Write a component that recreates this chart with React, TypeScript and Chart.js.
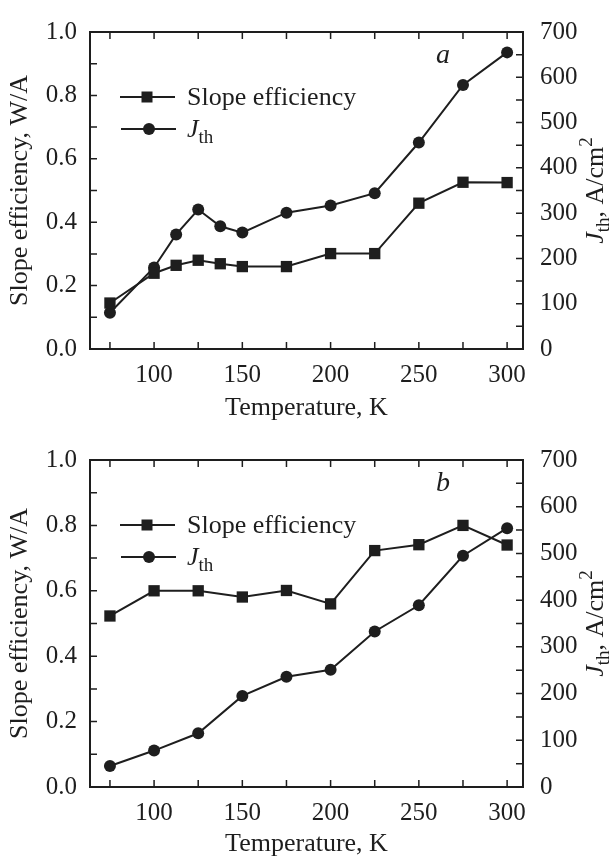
import React, { useEffect, useRef } from 'react';
import { Chart, registerables } from 'chart.js';

Chart.register(...registerables);

const FONT = '"Liberation Serif", "Times New Roman", Times, serif';
const INK = '#1e1e1e';

// Panel a
const tempA = [75, 100, 112.5, 125, 137.5, 150, 175, 200, 225, 250, 275, 300];
const slopeA = [0.145, 0.239, 0.264, 0.28, 0.269, 0.26, 0.26, 0.301, 0.301, 0.46, 0.526, 0.525];
const jthA = [80, 180, 253, 308, 271, 257, 301, 317, 344, 456, 583, 655];

// Panel b
const tempB = [75, 100, 125, 150, 175, 200, 225, 250, 275, 300];
const slopeB = [0.523, 0.6, 0.6, 0.581, 0.601, 0.56, 0.723, 0.741, 0.8, 0.74];
const jthB = [45, 78, 115, 195, 236, 251, 333, 389, 495, 554];

// Axes
const X_MIN = 63.7;
const X_MAX = 309;
const X_STEP = 50;
const X_MINOR = 25;
const Y_MIN = 0;
const Y_MAX = 1.0;
const Y_STEP = 0.2;
const Y_MINOR = 0.1;
const Y1_MIN = 0;
const Y1_MAX = 700;
const Y1_STEP = 100;
const Y1_MINOR = 50;

const X_TITLE = 'Temperature, K';
const Y_TITLE = 'Slope efficiency, W/A';
const LEGEND_SLOPE = 'Slope efficiency';

function drawRich(ctx: CanvasRenderingContext2D, parts: { t: string; size: number; italic?: boolean; dy?: number }[], x: number, y: number, align: 'left' | 'center') {
  let total = 0;
  for (const p of parts) {
    ctx.font = `${p.italic ? 'italic ' : ''}${p.size}px ${FONT}`;
    total += ctx.measureText(p.t).width;
  }
  let cx = align === 'center' ? x - total / 2 : x;
  ctx.textAlign = 'left';
  ctx.textBaseline = 'alphabetic';
  for (const p of parts) {
    ctx.font = `${p.italic ? 'italic ' : ''}${p.size}px ${FONT}`;
    ctx.fillText(p.t, cx, y + (p.dy || 0));
    cx += ctx.measureText(p.t).width;
  }
}

const framePlugin = {
  id: 'frame',
  afterDraw(chart: any, _args: any, opts: any) {
    const { ctx, chartArea: a, scales } = chart;
    const xs = scales.x, ys = scales.y, y1s = scales.y1;
    ctx.save();
    ctx.strokeStyle = INK;
    ctx.fillStyle = INK;
    ctx.lineWidth = 2;
    ctx.strokeRect(a.left, a.top, a.right - a.left, a.bottom - a.top);

    const TL = 7;
    ctx.lineWidth = 1.5;
    ctx.beginPath();
    for (let v = 75; v <= 300 + 1e-6; v += X_MINOR) {
      const px = xs.getPixelForValue(v);
      ctx.moveTo(px, a.bottom);
      ctx.lineTo(px, a.bottom - TL);
      ctx.moveTo(px, a.top);
      ctx.lineTo(px, a.top + TL);
    }
    for (let i = 0; i <= Math.round((Y_MAX - Y_MIN) / Y_MINOR); i++) {
      const py = ys.getPixelForValue(Y_MIN + i * Y_MINOR);
      ctx.moveTo(a.left, py);
      ctx.lineTo(a.left + TL, py);
    }
    for (let v = Y1_MIN; v <= Y1_MAX; v += Y1_MINOR) {
      const py = y1s.getPixelForValue(v);
      ctx.moveTo(a.right, py);
      ctx.lineTo(a.right - TL, py);
    }
    ctx.stroke();

    // x title
    ctx.font = `26px ${FONT}`;
    ctx.textAlign = 'center';
    ctx.textBaseline = 'alphabetic';
    ctx.fillText(X_TITLE, (a.left + a.right) / 2, a.bottom + opts.xTitleOffset);

    const cy = (a.top + a.bottom) / 2;
    // left title
    ctx.save();
    ctx.translate(27, cy);
    ctx.rotate(-Math.PI / 2);
    ctx.font = `26px ${FONT}`;
    ctx.textAlign = 'center';
    ctx.fillText(Y_TITLE, 0, 0);
    ctx.restore();

    // right title
    ctx.save();
    ctx.translate(603, cy);
    ctx.rotate(-Math.PI / 2);
    drawRich(ctx, [
      { t: 'J', size: 26, italic: true },
      { t: 'th', size: 19, dy: 6 },
      { t: ', A/cm', size: 26 },
      { t: '2', size: 19, dy: -11 },
    ], 0, 0, 'center');
    ctx.restore();

    // panel letter
    ctx.font = `italic 28px ${FONT}`;
    ctx.textAlign = 'center';
    ctx.fillText(opts.letter, 443, a.top + 31);

    // legend
    const r1 = a.top + 65;
    const r2 = a.top + 97;
    ctx.lineWidth = 2;
    ctx.beginPath();
    ctx.moveTo(120, r1);
    ctx.lineTo(175, r1);
    ctx.moveTo(121, r2);
    ctx.lineTo(176, r2);
    ctx.stroke();
    ctx.fillRect(147 - 5.5, r1 - 5.5, 11, 11);
    ctx.beginPath();
    ctx.arc(149, r2, 6, 0, Math.PI * 2);
    ctx.fill();
    ctx.font = `26px ${FONT}`;
    ctx.textAlign = 'left';
    ctx.fillText(LEGEND_SLOPE, 187, r1 + 8);
    drawRich(ctx, [
      { t: 'J', size: 26, italic: true },
      { t: 'th', size: 19, dy: 6 },
    ], 187, r2 + 8, 'left');

    ctx.restore();
  },
};

type PanelProps = {
  temps: number[];
  slope: number[];
  jth: number[];
  letter: string;
  padTop: number;
  xHeight: number;
  height: number;
  top: number;
  xTitleOffset: number;
};

function Panel({ temps, slope, jth, letter, padTop, xHeight, height, top, xTitleOffset }: PanelProps) {
  const ref = useRef<HTMLCanvasElement>(null);
  useEffect(() => {
    const tickFont = { family: FONT, size: 25 };
    const noGrid = { display: false, drawTicks: false, drawOnChartArea: false };
    const chart = new Chart(ref.current as HTMLCanvasElement, {
      type: 'line',
      data: {
        datasets: [
          {
            label: 'Slope efficiency',
            data: temps.map((t, i) => ({ x: t, y: slope[i] })),
            yAxisID: 'y',
            borderColor: INK,
            backgroundColor: INK,
            borderWidth: 2,
            pointStyle: 'rect',
            pointRadius: 8,
            pointBorderWidth: 0,
            pointBackgroundColor: INK,
            tension: 0,
          },
          {
            label: 'Jth',
            data: temps.map((t, i) => ({ x: t, y: jth[i] })),
            yAxisID: 'y1',
            borderColor: INK,
            backgroundColor: INK,
            borderWidth: 2,
            pointStyle: 'circle',
            pointRadius: 6,
            pointBorderWidth: 0,
            pointBackgroundColor: INK,
            tension: 0,
          },
        ],
      },
      options: {
        responsive: false,
        animation: false,
        devicePixelRatio: 1,
        layout: { padding: { top: padTop, left: 0, right: 0, bottom: 0 } },
        plugins: {
          legend: { display: false },
          tooltip: { enabled: false },
          frame: { letter, xTitleOffset },
        } as any,
        scales: {
          x: {
            type: 'linear',
            min: X_MIN,
            max: X_MAX,
            grid: noGrid,
            border: { display: false },
            ticks: {
              stepSize: X_STEP,
              includeBounds: false,
              font: tickFont,
              color: INK,
              padding: 11,
              maxRotation: 0,
              autoSkip: false,
              callback: (v: any) => String(v),
            },
            afterFit: (s: any) => { s.height = xHeight; },
          },
          y: {
            type: 'linear',
            position: 'left',
            min: Y_MIN,
            max: Y_MAX,
            grid: noGrid,
            border: { display: false },
            ticks: {
              stepSize: Y_STEP,
              font: tickFont,
              color: INK,
              padding: 13,
              callback: (v: any) => Number(v).toFixed(1),
            },
            afterFit: (s: any) => { s.width = 90; },
          },
          y1: {
            type: 'linear',
            position: 'right',
            min: Y1_MIN,
            max: Y1_MAX,
            grid: noGrid,
            border: { display: false },
            ticks: {
              stepSize: Y1_STEP,
              font: tickFont,
              color: INK,
              padding: 17,
              callback: (v: any) => String(v),
            },
            afterFit: (s: any) => { s.width = 92; },
          },
        },
      } as any,
      plugins: [framePlugin],
    });
    return () => chart.destroy();
  }, []);
  return (
    <canvas
      ref={ref}
      width={615}
      height={height}
      style={{ position: 'absolute', left: 0, top, width: 615, height }}
    />
  );
}

export default function App() {
  return (
    <div style={{ position: 'absolute', left: 0, top: 0, width: 615, height: 859, background: '#fff' }}>
      <Panel temps={tempA} slope={slopeA} jth={jthA} letter="a" padTop={22} xHeight={71} height={420} top={0} xTitleOffset={66} />
      <Panel temps={tempB} slope={slopeB} jth={jthB} letter="b" padTop={40} xHeight={72} height={439} top={420} xTitleOffset={64} />
    </div>
  );
}
